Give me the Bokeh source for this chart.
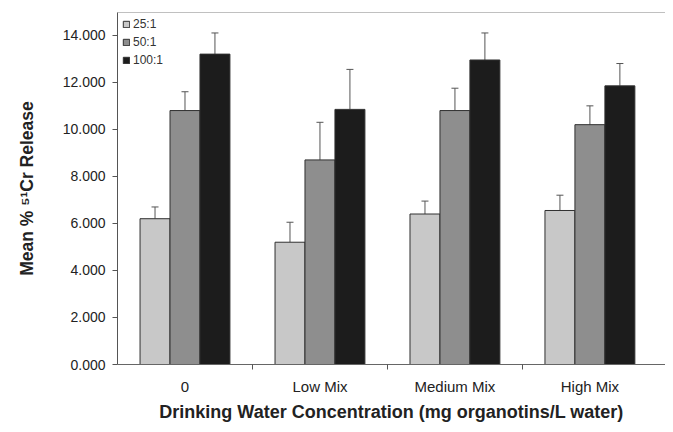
import numpy as np
from bokeh.plotting import figure
from bokeh.models import (ColumnDataSource, FixedTicker, NumeralTickFormatter, Range1d,
                          Whisker, TeeHead, Legend, LegendItem, LinearAxis)
from bokeh.transform import dodge
from bokeh.embed import file_html
from bokeh.resources import INLINE

categories = ["0", "Low Mix", "Medium Mix", "High Mix"]
series = ["25:1", "50:1", "100:1"]
mean_25 = [6.20, 5.20, 6.40, 6.55]
mean_50 = [10.80, 8.70, 10.80, 10.20]
mean_100 = [13.20, 10.85, 12.95, 11.85]
err_25 = [0.50, 0.85, 0.55, 0.65]
err_50 = [0.80, 1.60, 0.95, 0.80]
err_100 = [0.90, 1.70, 1.15, 0.95]
y_ticks = [0, 2, 4, 6, 8, 10, 12, 14]

colors = ["#c8c8c8", "#8e8e8e", "#1c1c1c"]
FONT = "Liberation Sans"

xc = np.arange(len(categories)) + 0.5
src = ColumnDataSource(dict(
    x=xc,
    m25=mean_25, m50=mean_50, m100=mean_100,
    u25=np.array(mean_25) + np.array(err_25),
    u50=np.array(mean_50) + np.array(err_50),
    u100=np.array(mean_100) + np.array(err_100),
))

p = figure(width=665, height=424, output_backend="svg", toolbar_location=None,
           x_range=Range1d(0, 4.06), y_range=Range1d(0, 14.97),
           min_border_left=117, min_border_top=12, min_border_bottom=59, min_border_right=0)

ax = p.below[0]
ay = p.left[0]

bw = 0.222
offs = [-bw, 0.0, bw]
keys = ["25", "50", "100"]
items = []
for s, k, c, o in zip(series, keys, colors, offs):
    r = p.vbar(x=dodge("x", o), top="m" + k, width=bw, source=src,
               fill_color=c, line_color="#303030", line_width=1)
    w = Whisker(base=dodge("x", o), upper="u" + k, lower="m" + k, source=src,
                line_color="#555555", line_width=1,
                upper_head=TeeHead(size=7, line_color="#555555", line_width=1),
                lower_head=None, level="underlay")
    p.add_layout(w)
    items.append(LegendItem(label=s, renderers=[r]))

leg = Legend(items=items, location="top_left", border_line_color=None,
             background_fill_alpha=0, glyph_width=8, glyph_height=8,
             label_text_font=FONT, label_text_font_size="12px", label_text_color="#333333",
             label_standoff=3, spacing=4, padding=2, margin=5,
             label_height=13)
p.add_layout(leg)

p.xgrid.visible = False
p.ygrid.visible = False
p.outline_line_color = None

top = LinearAxis(ticker=FixedTicker(ticks=[], minor_ticks=[]), axis_line_color="#c0c0c0",
                 major_tick_out=0, major_tick_in=0, minor_tick_out=0, minor_tick_in=0,
                 major_label_standoff=0)
p.add_layout(top, "above")

ax.ticker = FixedTicker(ticks=list(xc), minor_ticks=[1, 2, 3])
ax.major_label_overrides = {float(v): c for v, c in zip(xc, categories)}
ax.major_tick_out = 0
ax.major_tick_in = 0
ax.minor_tick_out = 5
ax.minor_tick_in = 0
ax.minor_tick_line_color = "#555555"
ax.axis_line_color = "#666666"
ax.major_label_standoff = 8
ax.major_label_text_font = FONT
ax.major_label_text_font_size = "15px"
ax.major_label_text_color = "#222222"
ax.axis_label = "Drinking Water Concentration (mg organotins/L water)"
ax.axis_label_text_font = FONT
ax.axis_label_text_font_size = "18px"
ax.axis_label_text_font_style = "bold"
ax.axis_label_text_color = "#222222"
ax.axis_label_standoff = 4

ay.ticker = FixedTicker(ticks=y_ticks, minor_ticks=[])
ay.formatter = NumeralTickFormatter(format="0.000")
ay.major_tick_out = 5
ay.major_tick_in = 0
ay.axis_line_color = "#555555"
ay.major_tick_line_color = "#555555"
ay.major_label_text_font = FONT
ay.major_label_text_font_size = "14px"
ay.major_label_text_color = "#222222"
ay.major_label_standoff = 7
ay.axis_label = "Mean % \u2075\u00b9Cr Release"
ay.axis_label_text_font = FONT
ay.axis_label_text_font_size = "17.5px"
ay.axis_label_text_font_style = "bold"
ay.axis_label_text_color = "#222222"
ay.axis_label_standoff = 23

open("out.html", "w").write(file_html(p, INLINE))
